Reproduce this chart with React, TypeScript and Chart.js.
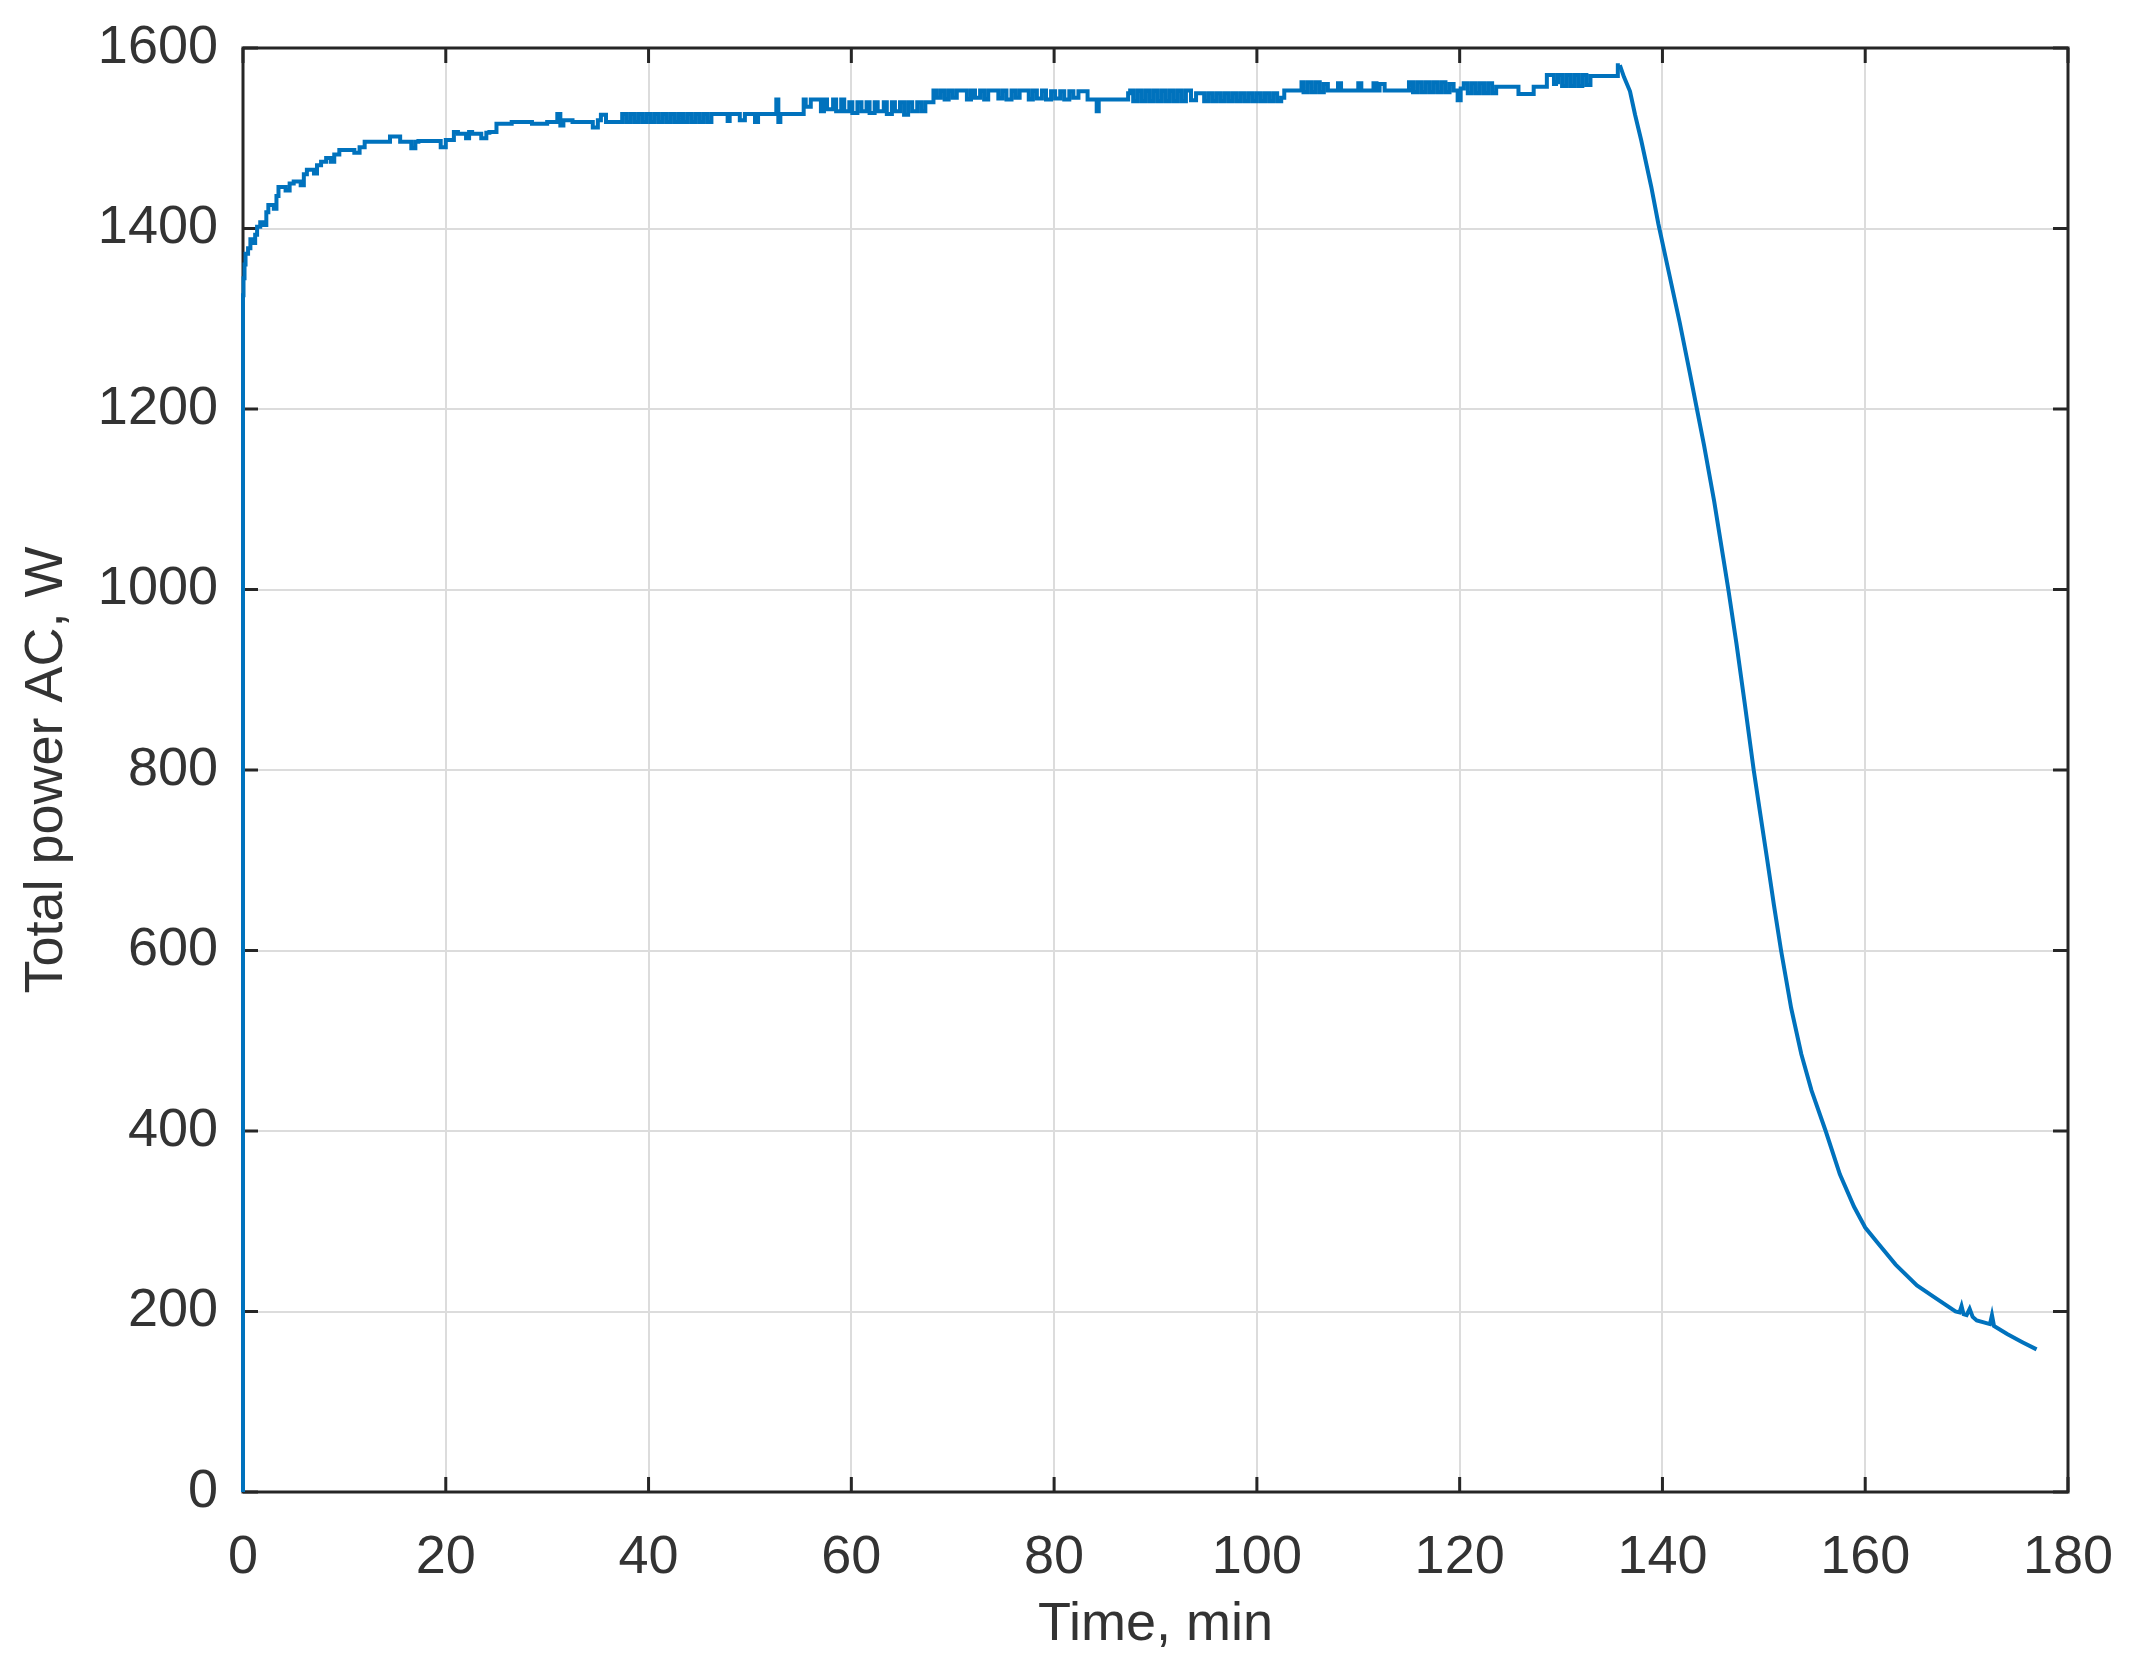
import { useEffect, useRef } from "react"
import { Chart, registerables } from "chart.js"

// Register Chart.js components
Chart.register(...registerables)

const steadyTime = [
  0, 0.05, 0.15, 0.25, 0.5, 0.73, 1.0, 1.2, 1.39, 1.7, 2.05, 2.3, 2.5, 3.04, 3.3, 3.5,
  4.2, 4.6, 5.0, 5.69, 6.0, 6.3, 7.0, 7.3, 7.7, 8.2, 8.66, 9.0, 9.5, 10.98, 11.5, 12.0,
  13.3, 14.5, 15.5, 15.7, 16.6, 17.0, 17.3, 19.5, 20.0, 20.2, 20.8, 21.2, 22.0, 22.3,
  22.6, 23.5, 24.0, 24.3, 25.0, 26.5, 28.5, 30.0, 31.0, 31.3, 31.6, 31.8, 32.5, 34.5,
  35.0, 35.3, 35.8,
  37.4, 37.8, 38.2, 38.6, 39.0, 39.4, 39.8, 40.2, 40.6, 41.0, 41.4, 41.8, 42.2, 42.6,
  43.0, 43.4, 43.8, 44.2, 44.6, 45.0, 45.4, 45.8, 46.2, 46.7,
  47.0, 47.8, 48.0, 48.2, 49.0, 49.5, 49.7, 50.5, 50.8, 51.0, 52.6, 52.8, 53.0, 53.2, 55.3,
  55.5, 56.0, 56.3, 57.0, 57.3, 57.6, 58.2, 58.5, 59.0, 59.3, 59.8, 60.1, 60.6, 61.0,
  61.5, 61.8, 62.3, 62.6, 63.2, 63.5, 64.0, 64.3, 64.8, 65.2, 65.6, 66.0, 66.5, 66.9,
  67.3, 67.7, 68.1,
  68.4, 68.8, 69.2, 69.6, 70.0, 70.4, 70.8, 71.4, 71.8, 72.2, 72.7, 73.1, 73.5, 73.9,
  74.5, 74.9, 75.3, 75.8, 76.2, 76.6, 77.0, 77.5, 77.9, 78.3, 78.8, 79.2, 79.7, 80.1,
  80.6, 81.0, 81.5, 81.9, 82.4, 82.8, 83.3,
  83.5, 84.2, 84.4, 84.6, 87.3, 87.5, 87.8,
  88.2, 88.6, 89.0, 89.4, 89.8, 90.2, 90.6, 91.0, 91.4, 91.8, 92.2, 92.6, 93.0, 93.5,
  94.0, 94.8, 95.2, 95.6, 96.0, 96.4, 96.8, 97.2, 97.6, 98.0, 98.4, 98.8, 99.2, 99.6,
  100.0, 100.4, 100.8, 101.2, 101.6, 102.0, 102.4, 102.7,
  103.1, 104.4, 104.6, 105.0, 105.4, 105.8, 106.2, 106.6, 107.0, 107.4,
  108.0, 108.3, 108.7, 110.0, 110.3, 110.6, 111.5, 111.8, 112.1, 112.6, 112.9, 115.0,
  115.4, 115.8, 116.2, 116.6, 117.0, 117.4, 117.8, 118.2, 118.6, 119.0, 119.4, 119.8,
  120.1, 120.4, 120.8, 121.2, 121.6, 122.0, 122.4, 122.8, 123.2, 123.6, 123.9,
  125.8, 126.0, 127.3, 127.5, 128.6, 128.8, 129.3, 129.5, 129.7,
  130.1, 130.5, 130.9, 131.3, 131.7, 132.1, 132.5, 132.9, 133.3, 135.6, 135.8,
]

const steadyPower = [
  0, 1326, 1345, 1360, 1372, 1378, 1388, 1384, 1393, 1402, 1407, 1404, 1418, 1426, 1422, 1436,
  1446, 1442, 1450, 1452, 1448, 1460, 1465, 1461, 1470, 1474, 1478, 1474, 1482, 1487, 1484, 1490,
  1496, 1496, 1502, 1496, 1496, 1489, 1496, 1497, 1490, 1498, 1498, 1507, 1505, 1500,
  1507, 1505, 1500, 1506, 1507, 1516, 1518, 1516, 1518, 1527, 1514, 1520, 1520, 1518,
  1512, 1520, 1526,
  1518, 1527, 1518, 1527, 1518, 1527, 1518, 1527, 1518, 1527, 1518, 1527, 1518, 1527,
  1518, 1527, 1518, 1527, 1518, 1527, 1518, 1527, 1518, 1527,
  1527, 1527, 1519, 1527, 1527, 1520, 1527, 1527, 1518, 1527, 1527, 1543, 1518, 1527, 1527,
  1543, 1535, 1543, 1543, 1530, 1543, 1532, 1543, 1530, 1543, 1530, 1540, 1528, 1540,
  1530, 1540, 1528, 1540, 1530, 1540, 1527, 1540, 1530, 1540, 1526, 1540, 1530, 1540,
  1530, 1540, 1540,
  1553, 1545, 1553, 1543, 1553, 1545, 1553, 1553, 1543, 1553, 1545, 1553, 1543, 1553,
  1553, 1544, 1553, 1543, 1553, 1545, 1553, 1553, 1543, 1553, 1544, 1553, 1543, 1552,
  1544, 1552, 1543, 1552, 1545, 1552, 1552,
  1543, 1543, 1530, 1543, 1543, 1550, 1553,
  1541, 1553, 1541, 1553, 1541, 1553, 1541, 1553, 1541, 1553, 1541, 1553, 1541, 1553,
  1542, 1550, 1541, 1550, 1541, 1550, 1541, 1550, 1541, 1550, 1541, 1550, 1541, 1550,
  1541, 1550, 1541, 1550, 1541, 1550, 1541, 1545,
  1553, 1553, 1562, 1551, 1562, 1551, 1562, 1551, 1560, 1553,
  1553, 1561, 1553, 1553, 1561, 1553, 1553, 1561, 1553, 1560, 1553, 1553,
  1562, 1551, 1562, 1551, 1562, 1551, 1562, 1551, 1562, 1551, 1560, 1553,
  1542, 1555, 1561, 1550, 1561, 1550, 1561, 1550, 1561, 1550, 1557,
  1557, 1549, 1549, 1557, 1557, 1570, 1570, 1560, 1562,
  1570, 1558, 1570, 1558, 1570, 1558, 1570, 1559, 1569, 1569, 1581,
]

// ... and the run-down after the heater is switched off
const decayTime = [
  135.8, 136.2, 136.8, 137.3, 137.9, 138.9, 139.6, 140.6, 141.7, 142.7, 143.4, 144.1,
  145.1, 146.0, 146.5, 147.3, 148.1, 149.0, 149.6, 150.3, 151.0, 151.7, 152.7, 153.7,
  154.7, 156.1, 157.5, 158.9, 160.0, 161.3, 163.0, 165.1, 166.8, 168.9, 169.3, 169.5,
  169.7, 170.0, 170.3, 170.6, 171.0, 172.3, 172.5, 172.7, 174.0, 175.5, 176.9,
]

const decayPower = [
  1581, 1568, 1552, 1526, 1498, 1446, 1405, 1353, 1296, 1240, 1200, 1160,
  1098, 1035, 1000, 940, 875, 800, 755, 703, 650, 600, 536, 485,
  445, 400, 352, 316, 293, 275, 252, 229, 216, 200, 199, 206,
  197, 196, 203, 194, 190, 186, 196, 184, 175, 166, 158,
]

const xTicks = [0, 20, 40, 60, 80, 100, 120, 140, 160, 180]
const yTicks = [0, 200, 400, 600, 800, 1000, 1200, 1400, 1600]

const LINE_COLOR = "#0072BD"
const AXIS_COLOR = "#262626"
const TEXT_COLOR = "#333333"
const GRID_COLOR = "#dcdcdc"
const TICK_LEN = 15

// MATLAB-style box with inward ticks on all four sides
const boxPlugin = {
  id: "matlabBox",
  beforeDatasetsDraw(chart: any) {
    const { ctx, chartArea: a, scales } = chart
    ctx.save()
    ctx.strokeStyle = AXIS_COLOR
    ctx.lineWidth = 3
    ctx.beginPath()
    for (const v of xTicks) {
      const px = scales.x.getPixelForValue(v)
      ctx.moveTo(px, a.bottom)
      ctx.lineTo(px, a.bottom - TICK_LEN)
      ctx.moveTo(px, a.top)
      ctx.lineTo(px, a.top + TICK_LEN)
    }
    for (const v of yTicks) {
      const py = scales.y.getPixelForValue(v)
      ctx.moveTo(a.left, py)
      ctx.lineTo(a.left + TICK_LEN, py)
      ctx.moveTo(a.right, py)
      ctx.lineTo(a.right - TICK_LEN, py)
    }
    ctx.stroke()
    ctx.strokeRect(a.left, a.top, a.right - a.left, a.bottom - a.top)
    ctx.restore()
  },
}

export default function App() {
  const chartRef = useRef<HTMLCanvasElement>(null)
  const chartInstance = useRef<Chart | null>(null)

  useEffect(() => {
    if (!chartRef.current) return
    if (chartInstance.current) chartInstance.current.destroy()

    const font = { family: "'Liberation Sans', Arial, Helvetica, sans-serif", size: 54 }
    const lineStyle = {
      borderColor: LINE_COLOR,
      borderWidth: 4,
      pointRadius: 0,
      tension: 0,
      clip: 6,
    }

    chartInstance.current = new Chart(chartRef.current, {
      type: "line",
      data: {
        datasets: [
          {
            ...lineStyle,
            data: steadyTime.map((t, i) => ({ x: t, y: steadyPower[i] })),
            stepped: "after",
          },
          {
            ...lineStyle,
            data: decayTime.map((t, i) => ({ x: t, y: decayPower[i] })),
          },
        ],
      },
      options: {
        animation: false,
        responsive: true,
        maintainAspectRatio: false,
        layout: { padding: { top: 48, right: 65, left: 0, bottom: 0 } },
        plugins: {
          legend: { display: false },
          tooltip: { enabled: false },
        },
        scales: {
          x: {
            type: "linear",
            min: 0,
            max: 180,
            afterBuildTicks: (scale: any) => {
              scale.ticks = xTicks.map((v) => ({ value: v }))
            },
            afterFit: (scale: any) => {
              // keep the plot box where the reference has it
              scale.height = 186
              scale.paddingLeft = 0
              scale.paddingRight = 0
            },
            grid: { color: GRID_COLOR, lineWidth: 2, drawTicks: false },
            border: { display: false },
            ticks: { color: TEXT_COLOR, font, padding: 34, maxRotation: 0, callback: (v: any) => String(v) },
            title: {
              display: true,
              text: "Time, min",
              color: TEXT_COLOR,
              font,
              padding: { top: 0, bottom: 20 },
            },
          },
          y: {
            type: "linear",
            min: 0,
            max: 1600,
            afterBuildTicks: (scale: any) => {
              scale.ticks = yTicks.map((v) => ({ value: v }))
            },
            afterFit: (scale: any) => {
              scale.width = 243
              scale.paddingTop = 0
              scale.paddingBottom = 0
            },
            grid: { color: GRID_COLOR, lineWidth: 2, drawTicks: false },
            border: { display: false },
            ticks: { color: TEXT_COLOR, font, padding: 25, callback: (v: any) => String(v) },
            title: {
              display: true,
              text: "Total power AC, W",
              color: TEXT_COLOR,
              font,
              padding: { top: 15, bottom: 0 },
            },
          },
        },
      },
      plugins: [boxPlugin],
    })

    return () => {
      if (chartInstance.current) {
        chartInstance.current.destroy()
        chartInstance.current = null
      }
    }
  }, [])

  return (
    <div style={{ position: "absolute", left: 0, top: 0, width: 2133, height: 1678, background: "#fff" }}>
      <canvas ref={chartRef} />
    </div>
  )
}
